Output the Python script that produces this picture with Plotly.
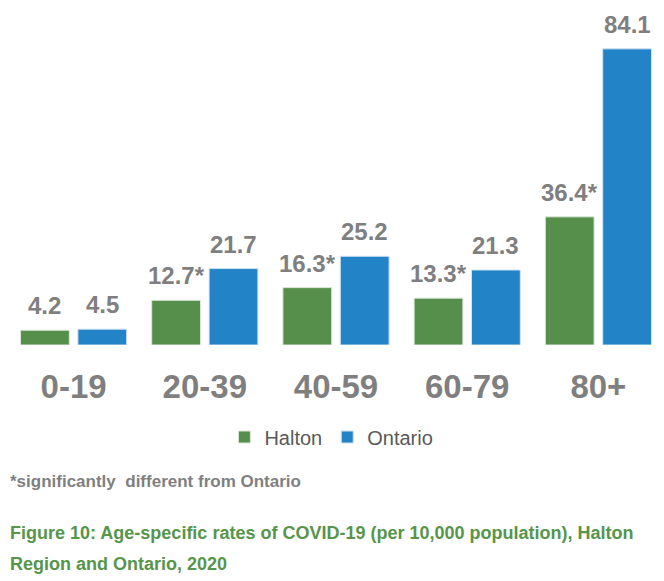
import plotly.graph_objects as go

categories = ["0-19", "20-39", "40-59", "60-79", "80+"]
halton = [4.2, 12.7, 16.3, 13.3, 36.4]
ontario = [4.5, 21.7, 25.2, 21.3, 84.1]
halton_labels = ["4.2", "12.7*", "16.3*", "13.3*", "36.4*"]
ontario_labels = ["4.5", "21.7", "25.2", "21.3", "84.1"]

GREEN = "#558F4B"
BLUE = "#2383C7"
GRAY = "#7F7F7F"
CAPTION_GREEN = "#56954A"

TOP, BOTTOM = 20, 345
PH = BOTTOM - TOP


def py(ypx):
    return (BOTTOM - ypx) / PH


fig = go.Figure()
fig.add_trace(go.Bar(name="Halton", x=categories, y=halton, marker=dict(color=GREEN, line=dict(color="#DDE8D8", width=1))))
fig.add_trace(go.Bar(name="Ontario", x=categories, y=ontario, marker=dict(color=BLUE, line=dict(color="#CFE2F3", width=1))))

off = 0.219
for i, (h, o, hl, ol) in enumerate(zip(halton, ontario, halton_labels, ontario_labels)):
    for xv, yv, t in ((i - off, h, hl), (i + off, o, ol)):
        fig.add_annotation(x=xv, y=yv, xref="x", yref="y", text=t, showarrow=False,
                           yanchor="bottom", yshift=9,
                           font=dict(family="Liberation Sans", size=24, color=GRAY, weight="bold"))

fig.add_annotation(xref="paper", yref="paper", x=0, xanchor="left", y=py(481), yanchor="middle",
                   text="*significantly  different from Ontario", showarrow=False,
                   font=dict(family="Liberation Sans", size=17, color=GRAY, weight="bold"))
fig.add_annotation(xref="paper", yref="paper", x=0, xanchor="left", y=py(533), yanchor="middle",
                   text="Figure 10: Age-specific rates of COVID-19 (per 10,000 population), Halton", showarrow=False,
                   font=dict(family="Liberation Sans", size=18, color=CAPTION_GREEN, weight="bold"))
fig.add_annotation(xref="paper", yref="paper", x=0, xanchor="left", y=py(564), yanchor="middle",
                   text="Region and Ontario, 2020", showarrow=False,
                   font=dict(family="Liberation Sans", size=18, color=CAPTION_GREEN, weight="bold"))

fig.update_layout(
    width=664, height=581,
    margin=dict(l=8, r=0, t=TOP, b=581 - BOTTOM),
    paper_bgcolor="white", plot_bgcolor="white",
    barmode="group", bargap=0.125, bargroupgap=0.15,
    showlegend=True,
    legend=dict(orientation="h", x=0.493, xanchor="center",
                y=py(437), yanchor="middle",
                font=dict(family="Liberation Sans", size=20, color="#595959"),
                itemwidth=30, traceorder="normal"),
    xaxis=dict(showline=False, showgrid=False, ticks="", ticklabelstandoff=19,
               tickfont=dict(family="Liberation Sans", size=33, color=GRAY, weight="bold")),
    yaxis=dict(visible=False, range=[0, 92.3]),
)

fig.write_html("out.html")
